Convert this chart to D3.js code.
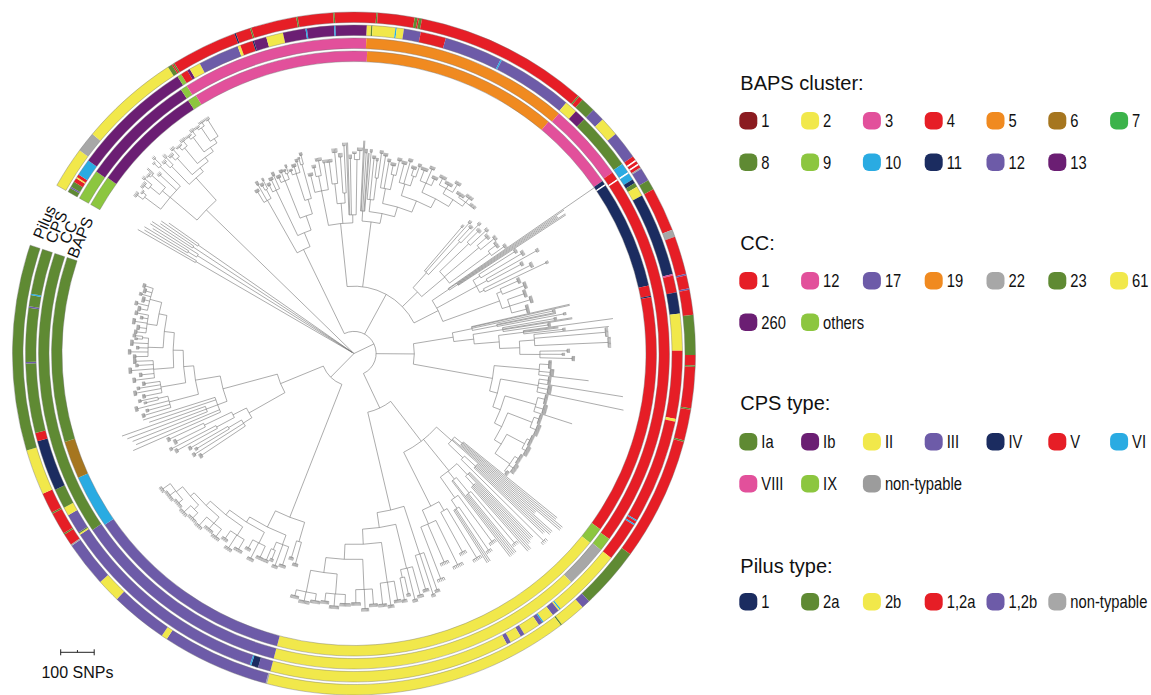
<!DOCTYPE html>
<html>
<head>
<meta charset="utf-8">
<script src="https://cdn.jsdelivr.net/npm/d3@7"></script>
<style>
  html, body { margin: 0; padding: 0; background: #fff; }
  svg { display: block; }
</style>
</head>
<body>
<svg id="chart" width="1151" height="695"></svg>
<script>
// ---------- category keys and colours ----------
const bapsCategories = ["1","2","3","4","5","6","7","8","9","10","11","12","13"];
const bapsColors     = ["#8B1B20","#F1E84B","#E2509B","#E61E26","#F08A20","#A6761F","#3BB34A","#5F8A33","#8CC63F","#2AABE2","#1B2C60","#6D5BA8","#6B1E73"];

const ccCategories = ["1","12","17","19","22","23","61","260","others"];
const ccColors     = ["#E61E26","#E2509B","#6D5BA8","#F08A20","#A7A7A7","#5F8A33","#F1E84B","#6B1E73","#8CC63F"];

const cpsCategories = ["Ia","Ib","II","III","IV","V","VI","VIII","IX","non-typable"];
const cpsColors     = ["#5F8A33","#6B1E73","#F1E84B","#6D5BA8","#1B2C60","#E61E26","#2AABE2","#E2509B","#8CC63F","#9C9C9C"];

const pilusCategories = ["1","2a","2b","1,2a","1,2b","non-typable"];
const pilusColors     = ["#1B2C60","#5F8A33","#F1E84B","#E61E26","#6D5BA8","#A7A7A7"];

// ---------- ring annotations: runs of [category, number of isolates] in tree order ----------
const bapsRuns = [["9",24],["13",85],["9",7],["3",136],["5",150],["3",61],["11",3],[null,1],["11",83],
  ["4",8],["11",1],["4",185],["9",13],["2",264],["12",163],["10",41],["6",29],["8",142]];

const ccRuns = [["others",23],["260",86],["others",5],["12",137],["19",153],["12",58],["1",6],[null,1],
  ["1",277],["others",10],["22",32],["61",233],["17",165],["23",210]];

const cpsRuns = [["Ia",3],["III",1],["Ia",4],["V",3],["II",1],["V",2],["VI",12],["Ib",86],["IX",3],["V",5],
  ["Ib",2],["II",8],["III",29],["II",2],["V",9],["IV",1],["Ib",9],["II",12],["Ib",16],["VI",1],["Ib",19],
  ["VI",1],["Ib",22],["II",3],["Ia",1],["II",16],["VI",1],["II",5],["III",12],["V",18],["III",41],["VI",1],
  ["III",54],["II",9],["Ib",8],["Ia",41],["VI",7],[null,1],["VI",5],["IV",3],["Ia",3],["II",7],["IV",59],
  ["VIII",1],["V",12],["IV",15],["II",26],["V",48],["II",2],["V",74],["VI",1],["V",2],["VI",1],["V",28],
  ["II",50],["VI",1],["II",1],["III",5],["II",8],["VI",1],["III",3],["II",12],["III",3],["II",8],["III",3],
  ["II",170],["III",9],["IV",5],["VI",1],["III",152],["II",1],["Ia",1],["III",14],["II",6],["Ia",14],
  ["IV",36],["V",6],["Ia",49],["III",1],["Ia",38],["III",1],["Ia",8],["VI",1],["Ia",32]];

const pilusRuns = [["2b",28],["non-typable",14],["2b",68],["2a",3],["1,2a",1],["2a",1],["1,2a",45],["1",1],
  ["1,2a",10],["2a",1],["1,2a",31],["2a",1],["1,2a",24],["2a",1],["1,2a",28],["2a",1],["1,2a",25],["2a",2],
  ["1,2a",1],["2a",2],["1,2a",118],["2a",1],["1,2a",3],["2a",10],["1,2b",9],["2b",13],["1,2b",19],["1,2a",3],
  [null,1],["1,2a",2],[null,1],["1,2a",2],["non-typable",1],["1,2b",9],["2a",7],["1,2a",30],["non-typable",5],
  ["1,2a",26],["1,2b",1],["1,2a",9],["1,2b",1],["1,2a",17],["2a",27],["1,2a",7],["2a",1],["1,2a",28],["2a",1],
  ["1,2a",21],["2a",1],["1,2a",84],["2a",42],["1,2b",6],["2b",18],["2a",1],["2b",208],["non-typable",1],
  ["1,2b",73],["2b",4],["1,2b",39],["2b",16],["1,2b",31],["non-typable",1],["1,2a",8],["2a",1],["1,2a",15],
  ["2a",1],["1,2a",14],["2b",31],["2a",140]];

// ---------- phylogeny ----------
// Branch lengths in SNPs. A number before a colon gives the isolates under that
// node: on a tip it is a group of near-identical isolates, on a clade its share of the circle.
const cladeA  = "((:198,:180):540,((:150,:126):30,:170):545,(:144,:120):570,(:132,:110):560)24:6";
const cladeB  = "((((5:9):21,(4:6):12):60,(((6:9):15,(3:9):27):36,((5:6):6,2:24):54):30,(4:9):66,((3:6):18,(3:9):27):84)37:105,(((4:9):21,(3:12):30):75,(((5:9):15,(4:9):27):66,(((6:6):12,(5:9):18):60,(((6:6):9,(4:9):15):54,(((5:6):6,(6:6):12):48,(4:9):57):15):15):15):15)55:90)92:615";
const cladeC1 = "(((6:9):36,(4:12):54,((5:9):15,(3:9):27):30):180,(((5:9):21,(6:9):33,(4:12):42):150,(((6:9):15,(5:9):27,((4:6):9,(3:9):18):18):120,(((5:6):12,(6:9):21,(4:9):33):84,((3:6):18,(4:9):27):105):45):45):45)68:279";
const cladeC2 = "(((5:9):51,((4:9):27,(6:9):45):45,(3:9):81):105,(((6:9):66,(5:12):93):60,((4:12):108,(3:9):141):30):60,(2:216,(3:12):168,((4:6):18,(5:9):27):165):24)68:189";
const cladeD  = "((2:210,(3:12):174,2:174):30,(((3:9):141,(4:9):123,((3:9):51,(4:9):75):66):36,(((5:9):96,(4:9):81,((6:9):27,(5:9):45):45):45,(((6:9):57,(5:9):69,((6:9):21,(4:9):33):30):36,(((8:9):33,(6:9):45,(7:9):21):30,(((8:9):21,(9:9):12,(7:9):27):18,((10:9):6,(9:9):15,8:9):15):24):30):36):30):30)150:195";
const cladeE  = "(((3:9):171,(4:9):195,((5:9):51,(4:9):75):135):60,(((6:9):45,(5:9):63):120,((7:9):36,(6:9):51):135,((8:9):27,(5:9):45):150):90)61:63";
const cladeF  = "((1:528,1:417,(2:360,2:384):30):60,(((5:9):126,(6:9):141):24,((4:9):171,(5:9):111):36,((6:9):156,(3:9):201):15):135,(((7:9):57,(8:9):69):15,((9:9):51,(8:9):63,(10:9):45):24):180)87:81";
const cladeG1 = "((2:300,(3:9):246,(2:180,(3:9):201):75):60,(((3:9):156,2:210,(4:9):135):90,((1:270,2:105,(3:9):117):75,((1:225,(8:9):213,(9:9):219):45,((4:9):81,(3:9):66,(5:9):96):60):60):75):60)60:120";
const cladeG2 = "(((10:9):27,(8:12):33,1:150):135,(((9:9):27,1:255,(10:12):30,1:264):114,(((12:9):21,(11:12):24,1:120):96,(((12:9):15,(14:12):18):78,(((14:9):9,(12:12):12):60,((13:9):12,(12:12):15,(6:9):6):54):24):24):24):24)147:240";
const cladeH1 = "(((2:360,3:390):30,2:330,((3:300,2:285):45,(4:9):345):60):60,((3:270,(2:240,3:255):36):45,(((4:9):201,3:225):60,2:285):30,((5:9):171,((4:9):156,3:186):30):75):120,(((6:9):171,(5:9):135):30,((7:9):147,(6:9):123,(5:9):165):45):180)125:150";
const cladeH2 = "(((5:9):117,(4:9):126,(6:9):105):150,(((6:9):87,(5:9):96,((4:9):51,(5:9):66):24):135,(((7:9):57,(6:9):69,(8:9):63):120,(((8:9):45,(7:9):57,(9:9):39):90,(((10:9):27,(9:9):36,(8:9):24):60,((9:9):21,(10:9):27,(8:9):18):66):45):45):45):45)139:300";
const cladeI  = "(((6:9):66,(5:9):51):60,(((7:9):57,(6:9):66,((4:9):27,(5:9):36):24):30,(((8:9):36,(7:9):51,(6:9):27):36,(((9:9):33,(8:9):45,(7:9):27):30,(((9:9):27,(10:9):21,(8:9):33):24,(((10:9):21,(9:9):27):18,((10:9):15,(11:9):21,(6:9):27):24):15):18):18):18):54)163:426";
const cladeJ  = "(((6:9):156,(5:9):171,((4:9):111,(5:9):126):45):30,(((5:9):135,(4:9):147):60,((6:9):96,(5:9):111):90):45)41:123";
const cladeK  = "(1:285,1:270,(1:240,1:252,1:264):36,1:210,1:225)29:30";
const cladeL  = "(((5:9):81,(4:9):66,(6:9):96,((3:9):36,(4:9):51):30):90,(((5:9):51,(6:9):75,(4:9):63,(5:9):45):75,(((6:9):57,(5:9):36,(7:9):66,(4:9):45,(6:9):51):60,(((5:9):36,(6:9):51,(4:9):27,(7:9):45,((3:9):15,(4:9):21):18):45,(((5:9):27,(6:9):21,(7:9):36,(4:9):15,(5:9):33):30,((6:9):21,(5:9):33,(7:9):15,(4:9):27,(6:9):18,(5:9):24):36):24):30):30):30)142:75";

const treeNewick =
  `(${cladeA},${cladeB},` +
  `(${cladeC1},(${cladeC2},${cladeD},${cladeE},${cladeF})366:135,(${cladeG1},${cladeG2})207:114,(${cladeH1},${cladeH2})264:114)905:66,` +
  `(${cladeI},(${cladeJ},(${cladeK},${cladeL})171:168)212:138)375:99);`;

const ringLabels = ["Pilus","CPS","CC","BAPS"];
const scaleBarSNPs = 100;

// ---------- helpers ----------
function parseNewick(s) {
  let i = 0;
  function node() {
    const n = { children: [], name: "", length: 0 };
    if (s[i] === "(") {
      i++;
      n.children.push(node());
      while (s[i] === ",") { i++; n.children.push(node()); }
      i++; // closing bracket
    }
    let name = "";
    while (i < s.length && !":,();".includes(s[i])) name += s[i++];
    n.name = name;
    if (s[i] === ":") {
      i++;
      let len = "";
      while (i < s.length && !",();".includes(s[i])) len += s[i++];
      n.length = +len;
    }
    return n;
  }
  return node();
}

const svg = d3.select("#chart");
const cx = 354, cy = 353.5;
const deg = Math.PI / 180;
const totalIsolates = d3.sum(bapsRuns, d => d[1]);
const angle = d3.scaleLinear().domain([0, totalIsolates]).range([-60.5 * deg, 288.5 * deg]);
const snp = d3.scaleLinear().domain([0, 100]).range([0, 33.5]);

const plot = svg.append("g").attr("transform", `translate(${cx},${cy})`);

// ---------- tree layout ----------
const root = d3.hierarchy(parseNewick(treeNewick), d => d.children.length ? d.children : null);
root.eachAfter(n => {
  n.w = n.data.name !== "" ? +n.data.name : (n.children ? d3.sum(n.children, c => c.w) : 1);
});
root.size = totalIsolates;
root.eachBefore(n => {
  n.dist = n.parent ? n.parent.dist + n.data.length : 0;
  if (!n.children) return;
  const tw = d3.sum(n.children, c => c.w);
  n.children.forEach(c => { c.size = n.size * c.w / tw; });
});
let cursor = 0;
root.leaves().forEach(l => {
  const k = l.data.name !== "" ? +l.data.name : 1;
  l.lines = d3.range(k).map(j => angle(cursor + (j + 0.5) * l.size / k));
  l.angle = angle(cursor + l.size / 2);
  l.lo = l.lines[0];
  l.hi = l.lines[k - 1];
  cursor += l.size;
});
root.eachAfter(n => {
  if (!n.children) return;
  n.angle = (n.children[0].angle + n.children[n.children.length - 1].angle) / 2;
  n.lo = n.hi = n.angle;
});

const treePath = d3.path();
const pt = (r, a) => [r * Math.sin(a), -r * Math.cos(a)];
root.each(n => {
  if (!n.children) return;
  const r = snp(n.dist);
  const a0 = n.children[0].lo, a1 = n.children[n.children.length - 1].hi;
  if (r > 0 && a1 > a0) {
    treePath.moveTo(...pt(r, a0));
    treePath.arc(0, 0, r, a0 - Math.PI / 2, a1 - Math.PI / 2);
  }
  n.children.forEach(c => {
    const rc = snp(c.dist);
    (c.children ? [c.angle] : c.lines).forEach(a => {
      treePath.moveTo(...pt(r, a));
      treePath.lineTo(...pt(rc, a));
    });
  });
});
plot.append("path")
  .attr("d", treePath.toString())
  .attr("fill", "none")
  .attr("stroke", "#747474")
  .attr("stroke-width", 0.6);

// ---------- annotation rings ----------
const rings = [
  { runs: bapsRuns,  cats: bapsCategories,  colors: bapsColors,  inner: 292, outer: 302.5 },
  { runs: ccRuns,    cats: ccCategories,    colors: ccColors,    inner: 305, outer: 315.5 },
  { runs: cpsRuns,   cats: cpsCategories,   colors: cpsColors,   inner: 318, outer: 328.5 },
  { runs: pilusRuns, cats: pilusCategories, colors: pilusColors, inner: 331, outer: 341.5 }
];
const arcGen = d3.arc();
rings.forEach(ring => {
  const color = d3.scaleOrdinal().domain(ring.cats).range(ring.colors);
  let start = 0;
  const segs = ring.runs.map(([cat, n]) => {
    const s = { cat, start, end: start + n };
    start += n;
    return s;
  });
  const rg = plot.append("g");
  rg.selectAll("path.seg").data(segs).join("path")
    .attr("class", "seg")
    .attr("d", d => arcGen({ innerRadius: ring.inner, outerRadius: ring.outer,
                             startAngle: angle(d.start), endAngle: angle(d.end) }))
    .attr("fill", d => d.cat === null ? "#ffffff" : color(d.cat));
  rg.append("path")
    .attr("d", arcGen({ innerRadius: ring.inner, outerRadius: ring.outer,
                        startAngle: angle(0), endAngle: angle(totalIsolates) }))
    .attr("fill", "none")
    .attr("stroke", "#6e6e6e")
    .attr("stroke-width", 0.4);
});

// ring names in the opening of the circle
const labelAngle = -67 * deg;
[...rings].reverse().forEach((ring, i) => {
  const r = (ring.inner + ring.outer) / 2;
  plot.append("text")
    .attr("transform", `translate(${r * Math.sin(labelAngle)},${-r * Math.cos(labelAngle)}) rotate(${labelAngle / deg})`)
    .attr("text-anchor", "middle")
    .attr("dominant-baseline", "central")
    .attr("font-family", "'Liberation Sans', Arial, sans-serif")
    .attr("font-size", 16)
    .attr("fill", "#111")
    .text(ringLabels[i]);
});

// ---------- scale bar ----------
const sb = svg.append("g").attr("transform", "translate(60.7,652.3)");
const sbLen = snp(scaleBarSNPs);
sb.append("path")
  .attr("d", `M0,-3V3M0,0H${sbLen}M${sbLen},-3V3M${sbLen / 2},-2.2V0`)
  .attr("stroke", "#222").attr("stroke-width", 1).attr("fill", "none");
sb.append("text")
  .attr("x", sbLen / 2).attr("y", 26)
  .attr("text-anchor", "middle")
  .attr("font-family", "'Liberation Sans', Arial, sans-serif")
  .attr("font-size", 16).attr("fill", "#111")
  .text(`${scaleBarSNPs} SNPs`);

// ---------- legends ----------
const legends = [
  { title: "BAPS cluster:", cats: bapsCategories, colors: bapsColors, titleY: 90, rowY: [112, 153.5] },
  { title: "CC:",           cats: ccCategories,   colors: ccColors,   titleY: 250, rowY: [272, 313.5] },
  { title: "CPS type:",     cats: cpsCategories,  colors: cpsColors,  titleY: 410, rowY: [433, 475] },
  { title: "Pilus type:",   cats: pilusCategories, colors: pilusColors, titleY: 573, rowY: [593] }
];
const legX = 739.3, colStep = 61.8, perRow = 7;
legends.forEach(lg => {
  const gl = svg.append("g");
  gl.append("text")
    .attr("x", legX + 1).attr("y", lg.titleY)
    .attr("font-family", "'Liberation Sans', Arial, sans-serif")
    .attr("font-size", 20).attr("fill", "#111")
    .text(lg.title);
  lg.cats.forEach((c, i) => {
    const x = legX + (i % perRow) * colStep;
    const y = lg.rowY[Math.floor(i / perRow)];
    gl.append("rect")
      .attr("x", x).attr("y", y).attr("width", 18).attr("height", 17.5)
      .attr("rx", 6).attr("ry", 6)
      .attr("fill", lg.colors[i]);
    // condensed item labels
    gl.append("text")
      .attr("transform", `translate(${x + 22},${y + 15}) scale(0.82,1)`)
      .attr("font-family", "'Liberation Sans', Arial, sans-serif")
      .attr("font-size", 18).attr("fill", "#111")
      .text(c);
  });
});
</script>
</body>
</html>
